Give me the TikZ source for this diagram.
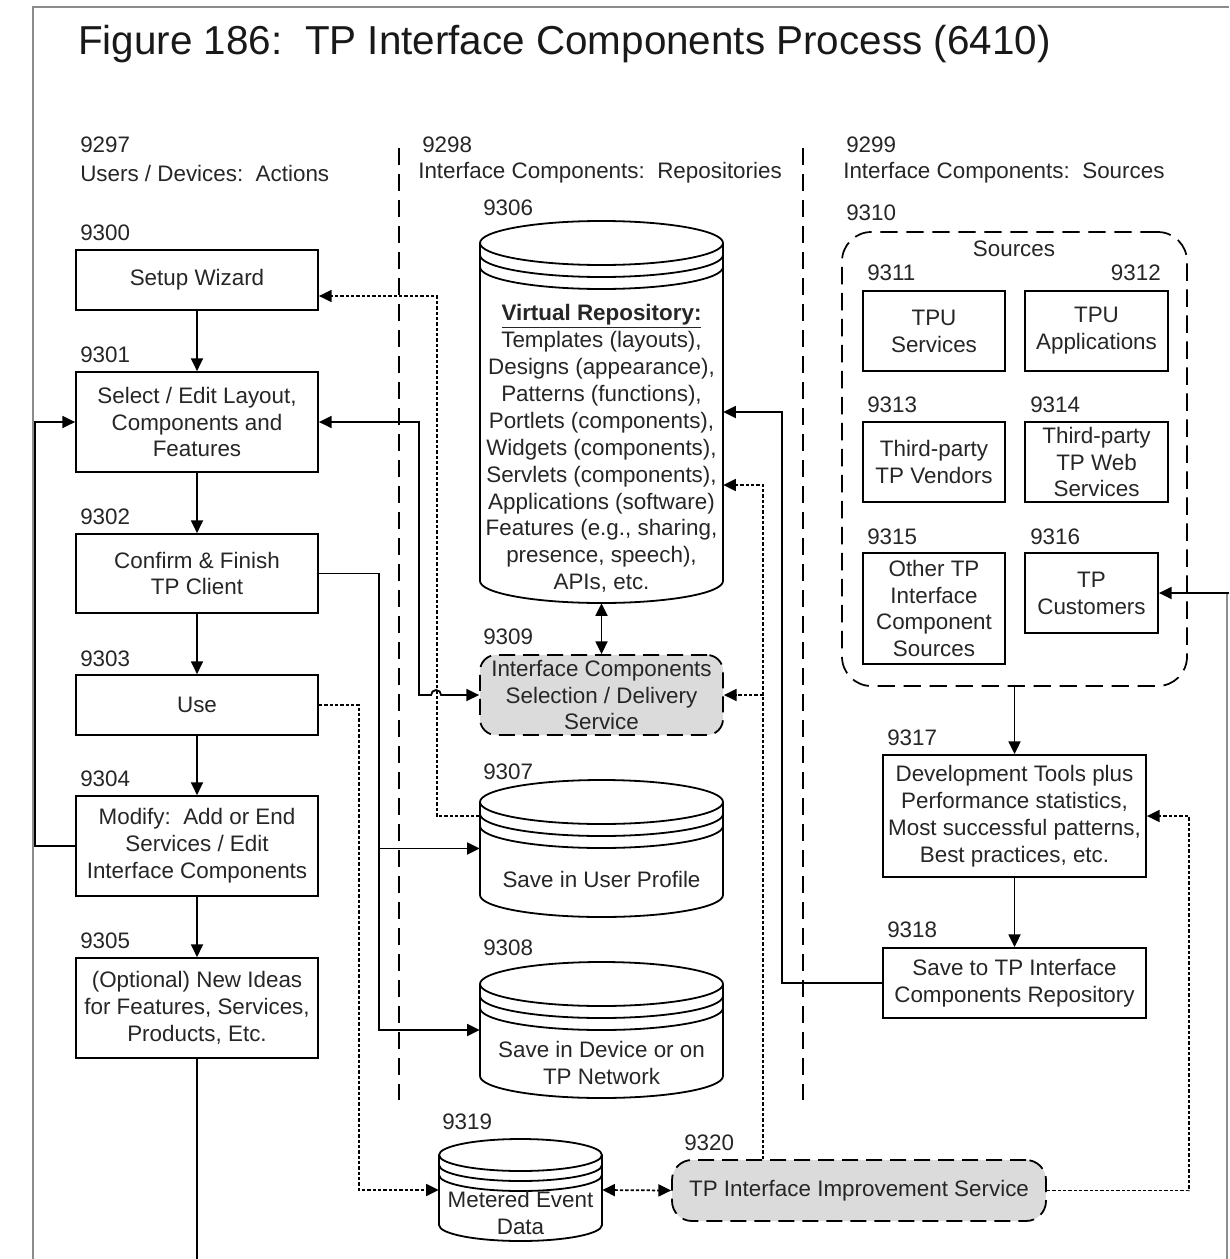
\documentclass[tikz,border=0pt]{standalone}
\usepackage{fontspec}
\setmainfont{Liberation Sans}
\usetikzlibrary{arrows.meta,calc}
\frenchspacing

% database cylinder: name, centre x, top y, bottom y, x radius, y radius, band gap
\newcommand\dbcyl[7]{%
  \node[inner sep=0, minimum width={2*#5*0.75pt}, minimum height={(#4-#3)*0.75pt}] (#1) at (#2,{-(#3+#4)/2}) {};
  \filldraw[fill=white, cylline] ({#2-#5},{-(#3+#6)}) -- ({#2-#5},{-(#4-#6)})
    arc[start angle=180,end angle=360,x radius=#5,y radius=#6] -- ({#2+#5},{-(#3+#6)})
    arc[start angle=0,end angle=180,x radius=#5,y radius=#6] -- cycle;
  \draw[cylline] ({#2-#5},{-(#3+#6)}) arc[start angle=180,end angle=360,x radius=#5,y radius=#6];
  \draw[cylline] ({#2-#5},{-(#3+#6+#7)}) arc[start angle=180,end angle=360,x radius=#5,y radius=#6];
  \draw[cylline] ({#2-#5},{-(#3+#6+2*#7)}) arc[start angle=180,end angle=360,x radius=#5,y radius=#6];
}

\begin{document}
\begin{tikzpicture}[x=0.75pt,y=0.75pt,
  txt/.style={font=\fontsize{16.8}{20.2}\selectfont, text=black!85},
  lbl/.style={anchor=west, inner sep=0, txt},
  sz/.style 2 args={minimum width={#1*0.75pt}, minimum height={#2*0.75pt}},
  box/.style={draw, line width=1.35pt, fill=white, align=center, inner sep=0, txt},
  svc/.style={box, fill=black!14, dash pattern=on 12pt off 6pt},
  cylline/.style={line width=1.35pt},
  conn/.style={line width=1.35pt},
  tip/.tip={Triangle[length=9.5pt,width=9pt]},
  arr/.style={conn, -tip},
  arrb/.style={conn, tip-tip},
  dotc/.style={line width=1.3pt, dash pattern=on 2.5pt off 1.5pt},
  dotarr/.style={dotc, -tip},
  colsep/.style={line width=1.3pt, dash pattern=on 13pt off 6.5pt},
  frame/.style={draw=black!45, line width=1.5pt}
]
\useasboundingbox (0,0) rectangle (1229,-1259);

% page frame
\draw[frame] (33,-1259) -- (33,-7) -- (1229,-7);
\draw[frame] (1227,-593) -- (1227,-1259);

% title
\node[anchor=west, inner sep=0, font=\fontsize{30.3}{34}\selectfont, text=black!90] (title) at (78,-44)
  {Figure 186:~ TP Interface Components Process (6410)};

% column headings and dividers
\node[lbl] (l9297) at (80,-145) {9297};
\node[lbl] (h1) at (80,-173) {Users / Devices:~ Actions};
\node[lbl] (l9298) at (422,-145) {9298};
\node[lbl] (h2) at (418,-173) {Interface Components:~ Repositories};
\node[lbl] (l9299) at (846,-145) {9299};
\node[lbl] (h3) at (843,-173) {Interface Components:~ Sources};
\coordinate (c1t) at (399,-148); \coordinate (c1b) at (399,-1100);
\coordinate (c2t) at (803,-148); \coordinate (c2b) at (803,-1100);
\draw[colsep] (c1t) -- (c1b);
\draw[colsep] (c2t) -- (c2b);

% user / device actions
\node[box, sz={242}{60}] (n9300) at (197,-280) {Setup Wizard};
\node[box, sz={242}{100}] (n9301) at (197,-422) {Select / Edit Layout,\\Components and\\Features};
\node[box, sz={242}{79}] (n9302) at (197,-573.5) {Confirm \& Finish\\TP Client};
\node[box, sz={242}{60}] (n9303) at (197,-705) {Use};
\node[box, sz={242}{100}] (n9304) at (197,-846) {Modify:~ Add or End\\Services / Edit\\Interface Components};
\node[box, sz={242}{100}] (n9305) at (197,-1008) {(Optional) New Ideas\\for Features, Services,\\Products, Etc.};
\node[lbl] (l9300) at (80,-233) {9300};
\node[lbl] (l9301) at (80,-355) {9301};
\node[lbl] (l9302) at (80,-517) {9302};
\node[lbl] (l9303) at (80,-659) {9303};
\node[lbl] (l9304) at (80,-779) {9304};
\node[lbl] (l9305) at (80,-941) {9305};

% repositories
\dbcyl{n9306}{601.5}{221}{603}{121.5}{22}{12}
\node[txt, align=center, inner sep=0] (t9306) at (601.5,-448.5)
  {\textbf{\underline{Virtual Repository:}}\\Templates (layouts),\\Designs (appearance),\\Patterns (functions),\\Portlets (components),\\Widgets (components),\\Servlets (components),\\Applications (software)\\Features (e.g., sharing,\\presence, speech),\\APIs, etc.};
\dbcyl{n9307}{601.5}{780}{917}{121.5}{22}{12}
\node[txt, inner sep=0] (t9307) at (601.5,-879) {Save in User Profile};
\dbcyl{n9308}{601.5}{962}{1098}{121.5}{22}{12}
\node[txt, align=center, inner sep=0] (t9308) at (601.5,-1063) {Save in Device or on\\TP Network};
\dbcyl{n9319}{520.5}{1139}{1241}{81.5}{16}{10}
\node[txt, align=center, inner sep=0] (t9319) at (520.5,-1213) {Metered Event\\Data};
\node[svc, sz={243}{80}, rounded corners=12pt] (n9309) at (601.5,-695) {Interface Components\\Selection / Delivery\\Service};
\node[svc, sz={374}{61}, rounded corners=15pt] (n9320) at (859,-1190.5) {TP Interface Improvement Service};
\node[lbl] (l9306) at (483,-208) {9306};
\node[lbl] (l9309) at (483,-637) {9309};
\node[lbl] (l9307) at (483,-772) {9307};
\node[lbl] (l9308) at (483,-948) {9308};
\node[lbl] (l9319) at (442,-1122) {9319};
\node[lbl] (l9320) at (684,-1143) {9320};

% sources
\node[draw, line width=1.3pt, dash pattern=on 13pt off 6.5pt, rounded corners=22pt, sz={345}{454}] (n9310) at (1014.5,-459) {};
\node[txt, inner sep=0] (src) at (1014,-249) {Sources};
\node[box, sz={142}{80}] (n9311) at (934,-331) {TPU\\Services};
\node[box, sz={143}{80}] (n9312) at (1096.5,-331) {TPU\\Applications};
\node[box, sz={142}{80}] (n9313) at (934,-462) {Third-party\\TP Vendors};
\node[box, sz={143}{80}] (n9314) at (1096.5,-462) {Third-party\\TP Web\\Services};
\node[box, sz={142}{111}] (n9315) at (934,-608.5) {Other TP\\Interface\\Component\\Sources};
\node[box, sz={133}{80}] (n9316) at (1091.5,-593) {TP\\Customers};
\node[box, sz={263}{122}] (n9317) at (1014.5,-816) {Development Tools plus\\Performance statistics,\\Most successful patterns,\\Best practices, etc.};
\node[box, sz={263}{70}] (n9318) at (1014.5,-983) {Save to TP Interface\\Components Repository};
\node[lbl] (l9310) at (846,-213) {9310};
\node[lbl] (l9311) at (867,-273) {9311};
\node[anchor=east, inner sep=0, txt] (l9312) at (1161,-273) {9312};
\node[lbl] (l9313) at (867,-405) {9313};
\node[lbl] (l9314) at (1030,-405) {9314};
\node[lbl] (l9315) at (867,-537) {9315};
\node[lbl] (l9316) at (1030,-537) {9316};
\node[lbl] (l9317) at (887,-738) {9317};
\node[lbl] (l9318) at (887,-930) {9318};

% action flow
\draw[arr] (n9300) -- (n9301);
\draw[arr] (n9301) -- (n9302);
\draw[arr] (n9302) -- (n9303);
\draw[arr] (n9303) -- (n9304);
\draw[arr] (n9304) -- (n9305);
\coordinate (flowend) at (197,-1259);
\draw[conn] (n9305.south) -- (flowend);
\draw[arr] (n9304.west) -- ++(-40,0) |- (n9301.west);

% profile recall to setup wizard
\draw[dotarr] ($(n9307.west)+(0,32.5)$) -- ++(-43,0) |- ($(n9300.east)+(0,-16)$);

% selection / delivery service link with line hop
\draw[arrb] (n9301.east) -- ++(100,0) |- ($(n9309.west)+(-48,0)$)
  arc[start angle=180,end angle=0,radius=5] -- (n9309.west);

% saving the client
\draw[arr] (n9302.east) -- ++(60,0) coordinate (j2) |- (n9308.west);
\draw[arr] (j2 |- n9307.west) -- (n9307.west);

% metering
\draw[dotarr] (n9303.east) -- ++(40,0) |- (n9319.west);
\draw[dotc, tip-tip] (n9319.east) -- (n9320.west);

% improvement feedback
\coordinate (imp) at ($(n9320.north)+(-96,0)$);
\draw[dotarr] (imp) |- ($(n9306.east)+(0,-73)$);
\draw[dotarr] (imp) |- (n9309.east);
\draw[dotarr] (n9320.east) -- ++(142,0) |- (n9317.east);

% repository and sources
\draw[arrb] (n9306.south) -- (n9309.north);
\draw[arr] (n9310.south) -- (n9317.north);
\draw[arr] (n9317) -- (n9318);
\draw[arr] (n9318.west) -- ++(-100,0) |- (n9306.east);
\coordinate (custin) at (1229,-593);
\draw[arr] (custin) -- (n9316.east);
\end{tikzpicture}
\end{document}
